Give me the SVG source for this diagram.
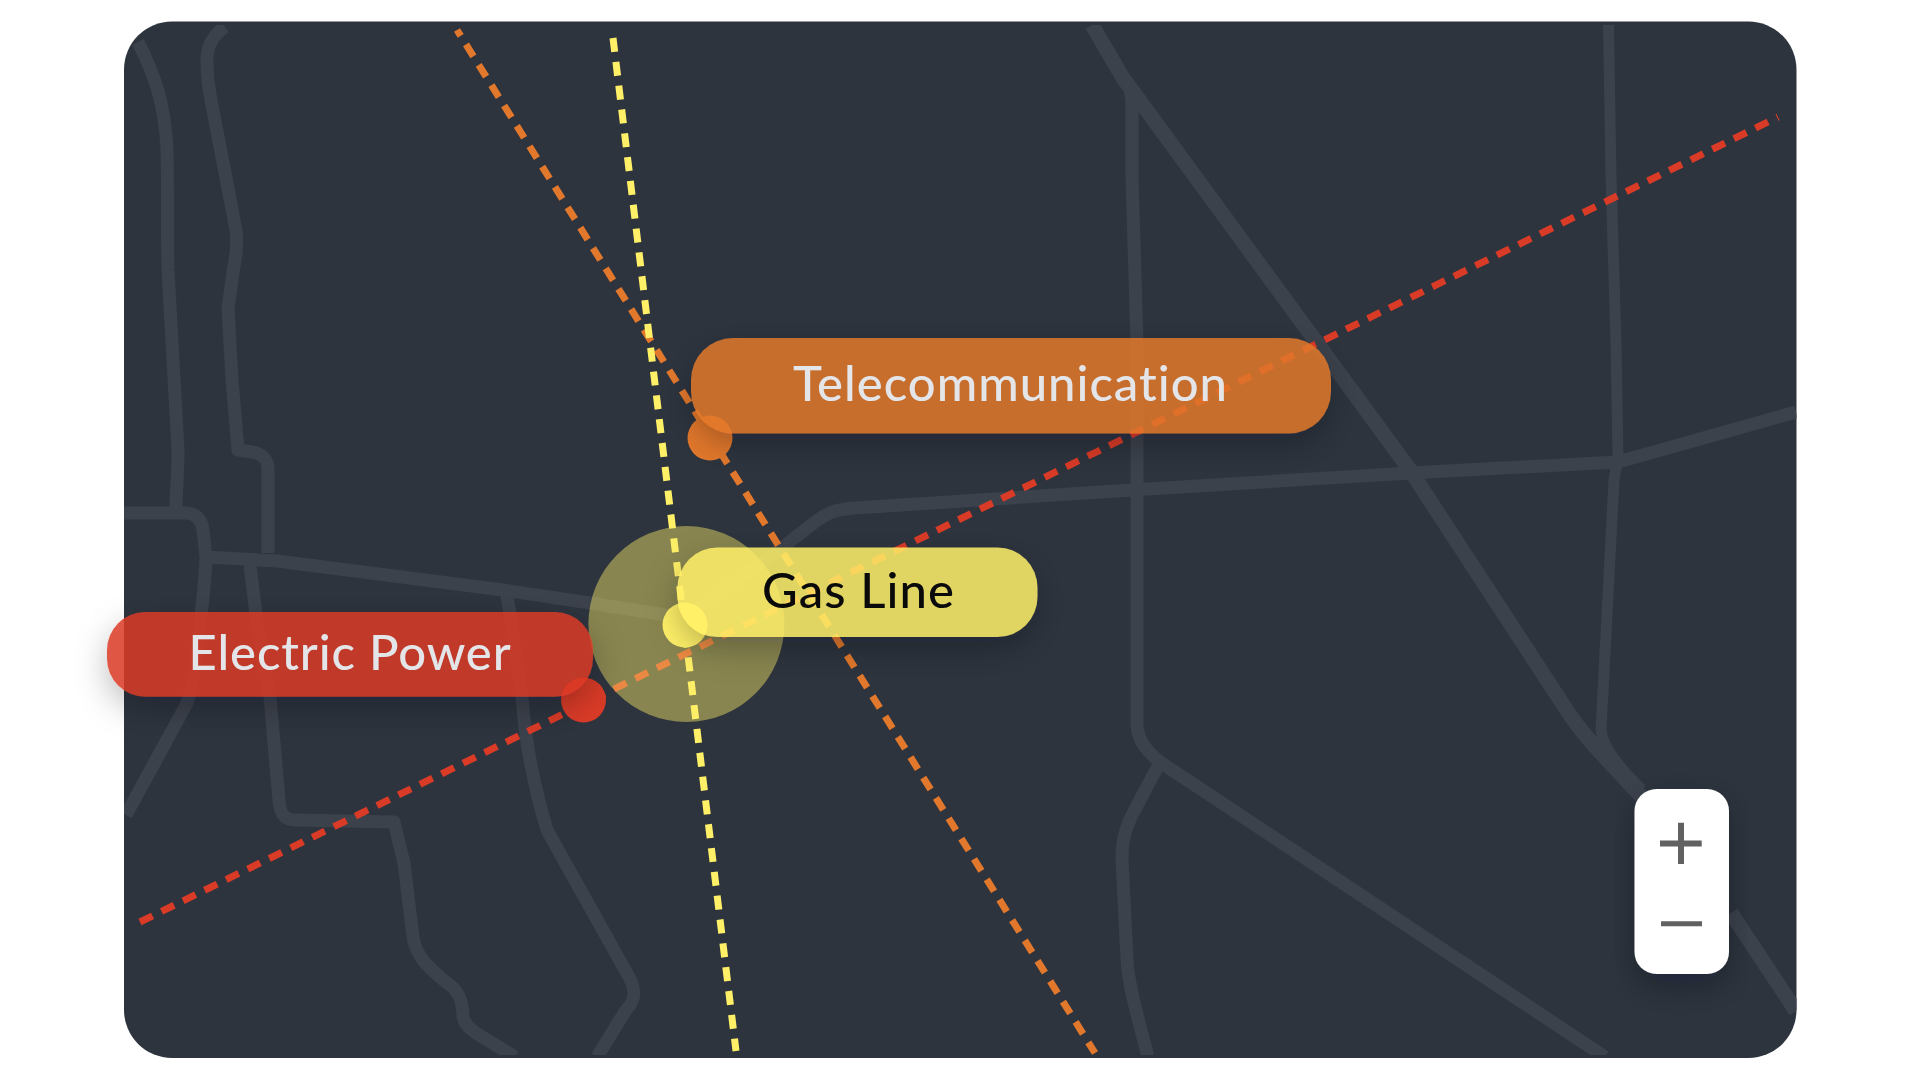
<svg xmlns="http://www.w3.org/2000/svg" width="1920" height="1080" viewBox="0 0 1920 1080">
<style>
.road{fill:none;stroke:#3c424c;stroke-width:13;stroke-linejoin:round;stroke-linecap:butt}
.line{fill:none;stroke-width:7;stroke-dasharray:14 10}
.lbl{font-family:"Lato","Liberation Sans",sans-serif;font-size:49px;font-weight:500;text-anchor:middle;font-variant-ligatures:none}
.pill{fill-opacity:.85;filter:url(#sh)}
</style>
<defs>
<clipPath id="cc"><rect x="124" y="25" width="1672.5" height="1030" rx="46"/></clipPath>
<filter id="sh" x="-20%" y="-60%" width="140%" height="240%">
<feGaussianBlur in="SourceAlpha" stdDeviation="16"/>
<feOffset dy="12" result="o"/>
<feFlood flood-color="#14161c" flood-opacity=".3"/>
<feComposite in2="o" operator="in"/>
<feComposite in2="SourceAlpha" operator="out" result="s"/>
<feMerge><feMergeNode in="s"/><feMergeNode in="SourceGraphic"/></feMerge>
</filter>
</defs>
<rect width="1920" height="1080" fill="#fff"/>
<rect id="map" x="124" y="21.5" width="1672.5" height="1036.5" rx="48" fill="#2d343e"/>
<g id="roads" clip-path="url(#cc)">
<path class="road" d="M138,42C155,75 165,105 167,150C168,190 167,240 168,270L178,450C178,475 176,495 176,507"/>
<path class="road" d="M124,513H186C198,513 202,522 203,530L206,557C205,590 200,620 198,640C196,670 192,690 186,705L126,815"/>
<path class="road" d="M225,27C212,36 207,46 207,60C207,75 208,85 211,100L236,230C238,245 236,256 234,266L228,308L232,380L238,450L252,452C262,454 268,458 268,470V553"/>
<path class="road" d="M206,557L277,561L503,590L590,603L685,618"/>
<path class="road" d="M685,618L783,547L815,522C828,512 838,509 855,508L1132,490L1410,473L1618,462L1796,412"/>
<path class="road" style="stroke-width:15" d="M1092,25L1123,78L1410,470L1566,709C1578,728 1590,742 1642,797M1731,913L1796,1011"/>
<path class="road" d="M1127,80C1130,88 1132,95 1132,105V177L1137,343V490V725C1138,742 1148,752 1160,762L1605,1057"/>
<path class="road" d="M1158,766L1132,815C1125,830 1122,840 1122,860L1127,959C1128,985 1140,1025 1148,1057"/>
<path class="road" d="M1608.5,25L1611,177L1616,343L1618,457L1614,480L1601,730C1603,745 1612,760 1642,790" style="stroke-width:11"/>
<path class="road" d="M250,565L258,630L270,697L279,800C280,815 285,820 295,820L394,822L404,863L413,937C416,955 425,965 447,983C458,990 463,1000 463,1017C465,1025 470,1029 476,1033L515,1057"/>
<path class="road" d="M506,590L511,620L522,697C525,740 535,790 547,830L629,977C636,990 636,1000 626,1010L597,1057"/>
</g>
<g id="connectors">
<path class="line" stroke="#e2782c" stroke-dashoffset="7" d="M457,30L1095,1053"/>
<path class="line" stroke="#da3b27" d="M140,922L1778,117"/>
<path class="line" stroke="#fff068" d="M613,38L736,1051"/>
</g>
<circle id="gas-zone" cx="686.4" cy="624" r="98" fill="#fff068" fill-opacity=".435"/>
<g id="pins">
<circle id="pin-telecom" cx="710" cy="438" r="22.5" fill="#e2782c"/>
<circle id="pin-electric" cx="583.5" cy="700" r="22.5" fill="#da3b27"/>
<circle id="pin-gas" cx="685" cy="625" r="22.5" fill="#fff068"/>
</g>
<g id="node-telecom">
<rect class="pill" x="691" y="338" width="640" height="95.5" rx="42" fill="#e2782c"/>
<text class="lbl" x="1010" y="401" fill="#e4e5e8" textLength="434">Telecommunication</text>
</g>
<g id="node-gas">
<rect class="pill" x="677.5" y="547.5" width="360" height="89.5" rx="40" fill="#fff068"/>
<text class="lbl" x="858" y="608" fill="#0a0a0a" textLength="192">Gas Line</text>
</g>
<g id="node-electric">
<rect class="pill" x="107" y="612" width="486" height="84.7" rx="38" fill="#da3b27"/>
<text class="lbl" x="349.6" y="670" fill="#e4e5e8" textLength="322">Electric Power</text>
</g>
<g id="zoom-control">
<rect x="1634.5" y="789" width="94.5" height="185" rx="22" fill="#fff" filter="url(#sh)"/>
<path d="M1660,843.5H1701.7M1681,822.7V864" fill="none" stroke="#616161" stroke-width="6"/>
<path d="M1661,923.7H1702" fill="none" stroke="#616161" stroke-width="5"/>
</g>
</svg>
